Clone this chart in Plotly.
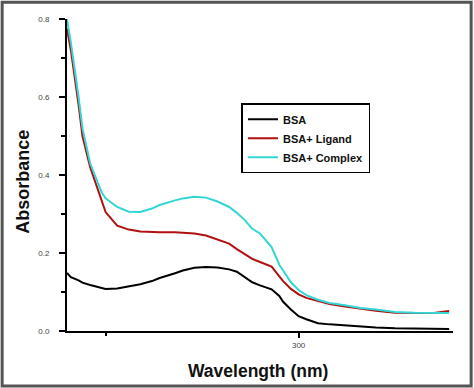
import plotly.graph_objects as go

wavelength = [240, 241, 243, 244, 246, 249, 250, 253, 256, 259, 262, 264, 268, 270, 273, 276, 279,
              282, 284, 286, 288, 290, 293, 295, 296, 298, 300, 302, 305, 308, 312, 316, 320, 325,
              330, 335, 339]

bsa = [0.149, 0.138, 0.130, 0.124, 0.118, 0.110, 0.108, 0.109, 0.114, 0.120, 0.128, 0.136, 0.148,
       0.155, 0.162, 0.164, 0.163, 0.158, 0.152, 0.138, 0.125, 0.117, 0.107, 0.090, 0.075, 0.055,
       0.038, 0.030, 0.020, 0.017, 0.014, 0.012, 0.009, 0.007, 0.006, 0.006, 0.005]

bsa_ligand = [0.775, 0.720, 0.580, 0.500, 0.420, 0.330, 0.305, 0.270, 0.260, 0.255, 0.253, 0.253,
              0.253, 0.252, 0.250, 0.245, 0.235, 0.224, 0.210, 0.198, 0.185, 0.177, 0.165, 0.140,
              0.128, 0.108, 0.094, 0.085, 0.077, 0.069, 0.063, 0.057, 0.052, 0.047, 0.046, 0.046,
              0.051]

bsa_complex = [0.800, 0.740, 0.600, 0.520, 0.430, 0.355, 0.340, 0.318, 0.306, 0.305, 0.314, 0.323,
               0.335, 0.340, 0.344, 0.342, 0.332, 0.318, 0.303, 0.285, 0.262, 0.250, 0.215, 0.170,
               0.155, 0.125, 0.105, 0.092, 0.080, 0.072, 0.066, 0.059, 0.055, 0.049, 0.047, 0.046,
               0.046]

series_names = ["BSA", "BSA+ Ligand", "BSA+ Complex"]
series_colors = ["#000000", "#b01010", "#33d6d6"]
series_values = [bsa, bsa_ligand, bsa_complex]

y_tickvals = [0.0, 0.2, 0.4, 0.6, 0.8]
y_minor = [0.1, 0.3, 0.5, 0.7]
x_tickvals = [300]
x_minor = [250]

x_title = "Wavelength (nm)"
y_title = "Absorbance"

fig = go.Figure()
for name, color, vals in zip(series_names, series_colors, series_values):
    fig.add_trace(go.Scatter(x=wavelength, y=vals, mode="lines", name=name,
                             line=dict(color=color, width=2)))

fig.update_layout(
    width=474, height=388,
    margin=dict(l=67, r=21, t=19, b=57, autoexpand=False),
    plot_bgcolor="white", paper_bgcolor="white",
    font=dict(family="Liberation Sans, Arial, sans-serif", color="#000"),
    showlegend=True,
    legend=dict(x=0.452, y=0.73, xanchor="left", yanchor="top",
                bordercolor="#000", borderwidth=1.5, bgcolor="white",
                font=dict(size=11, color="#111", weight="bold"), tracegroupgap=0,
                itemwidth=30),
)

fig.update_xaxes(
    range=[240, 340], showline=True, linecolor="#000", linewidth=2, mirror=False,
    showgrid=False, zeroline=False, automargin=False,
    tickvals=x_tickvals, ticktext=["300"], ticks="outside", ticklen=5, tickwidth=1.5,
    tickcolor="#000", tickfont=dict(size=8, color="#444"),
    minor=dict(tickvals=x_minor, ticks="outside", ticklen=3, tickwidth=1.5, tickcolor="#000"),
)
fig.update_yaxes(
    range=[0, 0.8], showline=True, linecolor="#000", linewidth=2,
    showgrid=False, zeroline=False, automargin=False,
    tickvals=y_tickvals, tickformat=".1f", ticks="outside", ticklen=6, tickwidth=1.5,
    tickcolor="#000", tickfont=dict(size=8, color="#444"), ticklabelstandoff=8,
    minor=dict(tickvals=y_minor, ticks="outside", ticklen=4, tickwidth=1.5, tickcolor="#000"),
)

fig.add_annotation(text="<b>" + x_title + "</b>", xref="paper", yref="paper",
                   x=0.495, y=-0.128, xanchor="center", yanchor="middle",
                   showarrow=False, font=dict(size=17.5, color="#111"))
fig.add_annotation(text="<b>" + y_title + "</b>", xref="paper", yref="paper",
                   x=-0.114, y=0.478, xanchor="center", yanchor="middle", textangle=-90,
                   showarrow=False, font=dict(size=18, color="#111"))

fig.add_shape(type="rect", xref="paper", yref="paper",
              x0=-0.168, x1=1.047, y0=-0.176, y1=1.054,
              line=dict(color="#555", width=3), fillcolor="rgba(0,0,0,0)", layer="above")

fig.write_html(
    "out.html",
    config={"displayModeBar": False},
    post_script="document.body.style.margin='0';document.body.style.overflow='hidden';",
)
